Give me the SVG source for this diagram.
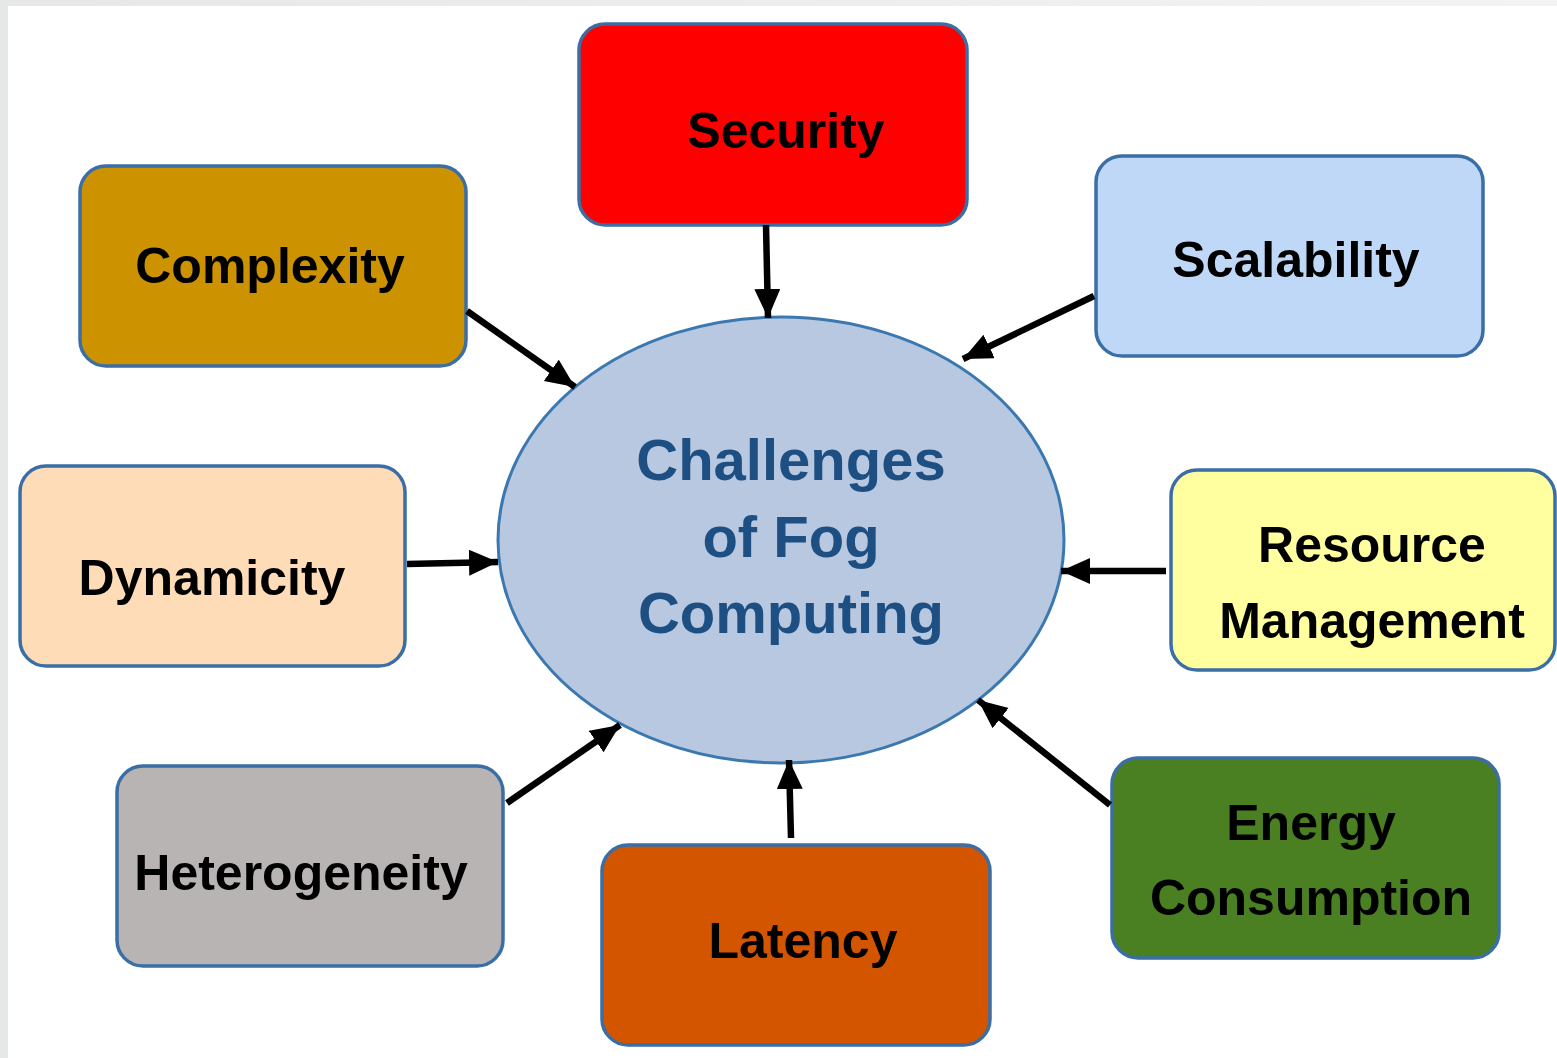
<svg xmlns="http://www.w3.org/2000/svg" width="1557" height="1058" viewBox="0 0 1557 1058">
<defs>
<linearGradient id="bg" x1="0" y1="0" x2="1" y2="0">
<stop offset="0" stop-color="#e6e8e8"/><stop offset="1" stop-color="#f2f3f3"/>
</linearGradient>
<marker id="ah" markerUnits="userSpaceOnUse" markerWidth="32" markerHeight="28" refX="29" refY="13" orient="auto">
<path d="M0,0 L29,13 L0,26 Z" fill="#000"/>
</marker>
</defs>
<style>
.box{stroke:#3a6ea5;stroke-width:3.5}
.lbl{font-family:"Liberation Sans",Arial,sans-serif;font-weight:bold;font-size:50px;fill:#000;text-anchor:middle}
.ctr{font-family:"Liberation Sans",Arial,sans-serif;font-weight:bold;font-size:58px;fill:#1d4f82;text-anchor:middle}
.conn line{stroke:#000;stroke-width:6.5;marker-end:url(#ah)}
</style>
<rect x="0" y="0" width="1557" height="1058" fill="url(#bg)"/>
<rect x="8" y="6" width="1549" height="1052" fill="#fff"/>

<g id="center">
<ellipse cx="781" cy="540" rx="283" ry="223" fill="#b8c8e0" stroke="#3c78b0" stroke-width="3"/>
<text class="ctr" x="791" y="480">Challenges</text>
<text class="ctr" x="791" y="557">of Fog</text>
<text class="ctr" x="791" y="633">Computing</text>
</g>

<g id="security">
<rect class="box" x="579" y="24" width="388" height="201" rx="26" fill="#ff0000"/>
<text class="lbl" x="786" y="148">Security</text>
</g>
<g id="complexity">
<rect class="box" x="80" y="166" width="386" height="200" rx="26" fill="#cc9200"/>
<text class="lbl" x="270" y="283">Complexity</text>
</g>
<g id="scalability">
<rect class="box" x="1096" y="156" width="387" height="200" rx="26" fill="#c0d8f8"/>
<text class="lbl" x="1296" y="277">Scalability</text>
</g>
<g id="dynamicity">
<rect class="box" x="20" y="466" width="385" height="200" rx="26" fill="#ffdcb8"/>
<text class="lbl" x="212" y="595">Dynamicity</text>
</g>
<g id="resource">
<rect class="box" x="1171" y="470" width="384" height="200" rx="26" fill="#ffff9f"/>
<text class="lbl" x="1372" y="562">Resource</text>
<text class="lbl" x="1372" y="638">Management</text>
</g>
<g id="heterogeneity">
<rect class="box" x="117" y="766" width="386" height="200" rx="26" fill="#b8b4b4"/>
<text class="lbl" x="301" y="890">Heterogeneity</text>
</g>
<g id="latency">
<rect class="box" x="602" y="845" width="388" height="200" rx="26" fill="#d45500"/>
<text class="lbl" x="803" y="958">Latency</text>
</g>
<g id="energy">
<rect class="box" x="1112" y="758" width="387" height="200" rx="26" fill="#4a7f22"/>
<text class="lbl" x="1311" y="840">Energy</text>
<text class="lbl" x="1311" y="915">Consumption</text>
</g>

<g id="connectors" class="conn">
<line x1="766" y1="225" x2="768" y2="318"/>
<line x1="467" y1="311" x2="575" y2="387"/>
<line x1="1094" y1="296" x2="963" y2="359"/>
<line x1="407" y1="564" x2="498" y2="562"/>
<line x1="1166" y1="571" x2="1061" y2="571"/>
<line x1="507" y1="803" x2="620" y2="725"/>
<line x1="791" y1="838" x2="789" y2="760"/>
<line x1="1110" y1="805" x2="978" y2="700"/>
</g>
</svg>
